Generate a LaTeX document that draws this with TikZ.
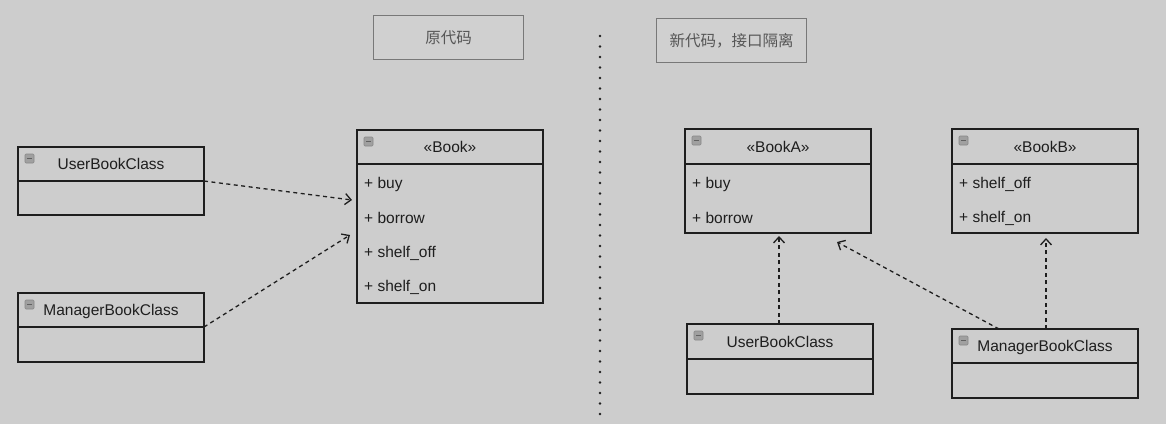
\documentclass[tikz,border=0pt]{standalone}
\usepackage{fontspec}
\setmainfont{Liberation Sans}
\newfontfamily\cjk{Noto Sans CJK SC}
\usetikzlibrary{arrows.meta,calc}
\definecolor{bg}{RGB}{205,205,205}
\definecolor{titlefill}{RGB}{208,208,208}
\definecolor{titleborder}{RGB}{120,120,120}
\definecolor{ink}{RGB}{30,30,30}
\definecolor{iconfill}{RGB}{160,160,160}
\tikzset{
  titlebox/.style={draw=titleborder, fill=titlefill, line width=1.2pt, minimum width=150pt, minimum height=44pt, anchor=north west, inner sep=0pt, font=\cjk\fontsize{15.5}{18}\selectfont, text=ink!75},
  hdr/.style={draw=ink, line width=1.4pt, minimum width=186pt, anchor=north west, inner sep=0pt, outer sep=0pt, text depth=0pt, font=\fontsize{15.5}{18}\selectfont, text=ink},
  bdy/.style={draw=ink, line width=1.4pt, minimum width=186pt, anchor=north west, inner sep=0pt, outer sep=0pt},
  item/.style={anchor=west, inner sep=0pt, font=\fontsize{15.5}{18}\selectfont, text=ink},
  icon/.style={draw=iconfill!85!black, fill=iconfill, line width=0.6pt, rounded corners=1pt},
  dep/.style={draw=ink, line width=1.3pt, dash pattern=on 4pt off 3.5pt, -{Straight Barb[length=6pt,width=11pt,line width=1.3pt]}},
  sep/.style={draw=ink, line width=2.6pt, line cap=round, dash pattern=on 0pt off 10.5pt}
}
\newcommand{\umlicon}[1]{\draw[icon] ($(#1.north west)+(7,7)$) rectangle ++(9,9); \draw[ink!70, line width=1pt] ($(#1.north west)+(9,11.5)$) -- ++(5,0);}
\begin{document}
\begin{tikzpicture}[x=1pt,y=-1pt]
\useasboundingbox (0,0) rectangle (1166,424);
\fill[bg] (0,0) rectangle (1166,424);

% title boxes
\node[titlebox] (t1) at (373,15) {原代码};
\node[titlebox] (t2) at (656,18) {新代码，接口隔离};

% separator
\coordinate (s1) at (600,36);
\coordinate (s2) at (600,424);
\draw[sep] (s1) -- (s2);

% ---------- left ----------
\node[hdr, minimum height=34pt] (lub) at (18,147) {UserBookClass};
\node[bdy, minimum height=34pt] (lubb) at (lub.south west) {};
\umlicon{lub}

\node[hdr, minimum height=34pt] (lmb) at (18,293) {ManagerBookClass};
\node[bdy, minimum height=35pt] (lmbb) at (lmb.south west) {};
\umlicon{lmb}

\node[hdr, minimum height=34pt] (book) at (357,130) {«Book»};
\node[bdy, minimum height=139pt] (bookb) at (book.south west) {};
\umlicon{book}
\node[item] (b1) at (364,184) {+ buy};
\node[item] (b2) at (364,218) {+ borrow};
\node[item] (b3) at (364,253) {+ shelf\_off};
\node[item] (b4) at (364,287) {+ shelf\_on};

\coordinate (la1) at (352,200);
\coordinate (la2) at (350,235);
\draw[dep] (lub.south east) -- (la1);
\draw[dep] (lmb.south east) -- (la2);

% ---------- right ----------
\node[hdr, minimum height=35pt] (ba) at (685,129) {«BookA»};
\node[bdy, minimum height=69pt] (bab) at (ba.south west) {};
\umlicon{ba}
\node[item] (ba1) at (692,184) {+ buy};
\node[item] (ba2) at (692,218) {+ borrow};

\node[hdr, minimum height=35pt] (bb) at (952,129) {«BookB»};
\node[bdy, minimum height=69pt] (bbb) at (bb.south west) {};
\umlicon{bb}
\node[item] (bb1) at (959,184) {+ shelf\_off};
\node[item] (bb2) at (959,218) {+ shelf\_on};

\node[hdr, minimum height=35pt] (rub) at (687,324) {UserBookClass};
\node[bdy, minimum height=35pt] (rubb) at (rub.south west) {};
\umlicon{rub}

\node[hdr, minimum height=34pt] (rmb) at (952,329) {ManagerBookClass};
\node[bdy, minimum height=35pt] (rmbb) at (rmb.south west) {};
\umlicon{rmb}

\coordinate (ra1) at (779,236);
\coordinate (ra2) at (837,242);
\coordinate (ra3) at (1046,238);
\coordinate (ru) at (779,324);
\coordinate (rm1) at (999,329);
\coordinate (rm2) at (1046,329);
\draw[dep] (ru) -- (ra1);
\draw[dep] (rm1) -- (ra2);
\draw[dep] (rm2) -- (ra3);
\end{tikzpicture}
\end{document}
